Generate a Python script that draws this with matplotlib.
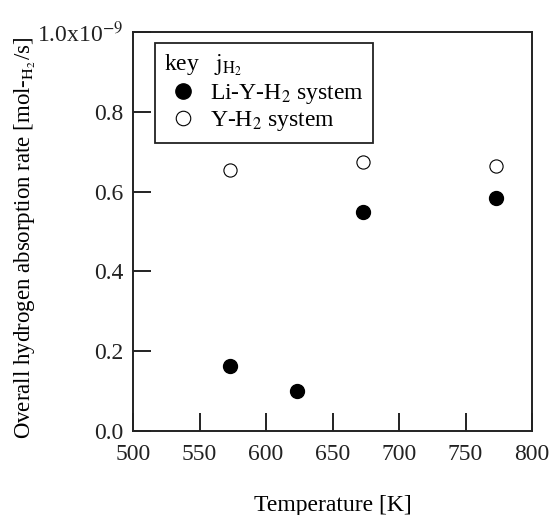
import matplotlib
matplotlib.use("Agg")
import matplotlib.pyplot as plt

plt.rcParams['font.family'] = ['Liberation Serif', 'DejaVu Serif']
plt.rcParams['mathtext.fontset'] = 'stix'

# Temperatures [K] and overall absorption rates [x1e-9 mol-H2/s]
temp_li = [573, 623, 673, 773]
rate_li = [0.164, 0.101, 0.548, 0.585]
temp_y = [573, 673, 773]
rate_y = [0.654, 0.675, 0.664]

xticks = [500, 550, 600, 650, 700, 750, 800]
yticks = [0.0, 0.2, 0.4, 0.6, 0.8, 1.0]
ytick_labels = ['0.0', '0.2', '0.4', '0.6', '0.8', '1.0x10$^{-9}$']

fig = plt.figure(figsize=(5.53, 5.15), dpi=100)
ax = fig.add_axes([133 / 553, 1 - 431 / 515, 399 / 553, 399 / 515])

ax.plot(temp_li, rate_li, 'o', color='black', markersize=10, linestyle='none',
        label='Li-Y-H$_2$ system')
ax.plot(temp_y, rate_y, 'o', markerfacecolor='white', markeredgecolor='black',
        markeredgewidth=0.8, markersize=9.5, linestyle='none',
        label='Y-H$_2$ system')

ax.set_xlim(500, 800)
ax.set_ylim(0, 1.0)
ax.set_xticks(xticks)
ax.set_xticklabels([str(t) for t in xticks])
ax.set_yticks(yticks)
ax.set_yticklabels(ytick_labels)
ax.tick_params(direction='in', length=13, width=1.4, labelsize=17,
               colors='#222222')
ax.tick_params(axis='x', pad=9)
ax.tick_params(axis='y', pad=7)
for s in ax.spines.values():
    s.set_linewidth(1.4)
    s.set_color('#222222')

ax.set_xlabel('Temperature [K]', fontsize=17, labelpad=22)
ax.set_ylabel('Overall hydrogen absorption rate [mol-$_{\\mathrm{H_2}}$/s]',
              fontsize=16.5)
ax.yaxis.set_label_coords(-0.238, 0.485)

leg = ax.legend(loc='upper left', bbox_to_anchor=(0.055, 0.972), borderaxespad=0,
                title='key   $\\mathrm{j_{H_2}}$', title_fontsize=17, fontsize=17,
                alignment='left', fancybox=False, edgecolor='#222222',
                framealpha=1, handletextpad=0.36, handlelength=1.57,
                borderpad=0.4, labelspacing=0.15, markerscale=1.1)
leg.get_frame().set_linewidth(1.3)

fig.savefig('out.png', dpi=100)
